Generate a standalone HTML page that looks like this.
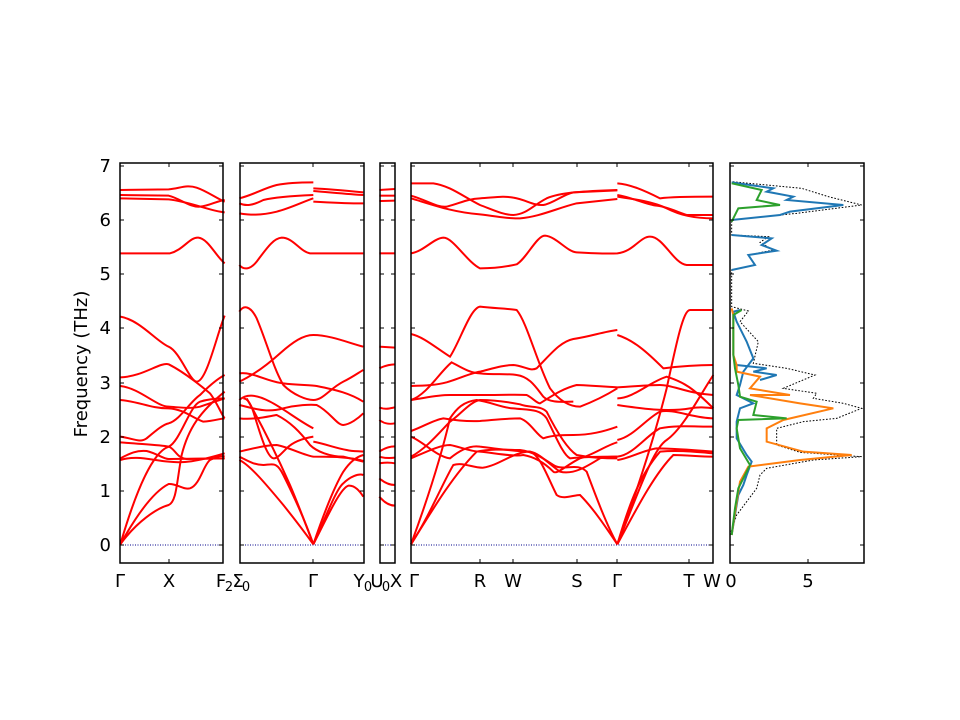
<!DOCTYPE html>
<html><head><meta charset="utf-8"><style>
html,body{margin:0;padding:0;background:#fff;}
svg{display:block;font-family:"DejaVu Sans","Liberation Sans",sans-serif;}
</style></head><body>
<svg width="960" height="720" viewBox="0 0 960 720" xmlns="http://www.w3.org/2000/svg">
<rect width="960" height="720" fill="#fff"/>
<g stroke="#00008b" stroke-width="1" stroke-dasharray="1,1.5">
<line x1="120" y1="545" x2="223" y2="545"/><line x1="240" y1="545" x2="364" y2="545"/>
<line x1="380" y1="545" x2="395" y2="545"/><line x1="411" y1="545" x2="713" y2="545"/>
</g>
<g transform="translate(110,155) scale(0.33333)" fill="none" stroke="#ff0000" stroke-width="6">
<path d="M31,105 L176,103 C210,100 230,88 260,98 C290,108 320,130 344,140"/>
<path d="M31,120 L176,122 C210,130 240,158 270,155 C300,152 320,138 344,135"/>
<path d="M31,130 L176,133 C240,140 300,168 344,172"/>
<path d="M31,295 L180,295 C220,285 240,245 265,248 C295,252 315,300 344,325"/>
<path d="M31,485 C90,495 140,560 176,575 C210,590 240,680 260,680 C290,680 320,540 344,482"/>
<path d="M31,667 C100,665 150,620 176,628 C220,650 270,690 300,715 C320,740 335,780 344,790"/>
<path d="M31,693 C90,700 140,755 176,755 C210,757 240,762 270,755 C300,745 330,735 344,730"/>
<path d="M31,735 C90,740 120,760 176,760 C220,762 250,790 280,800 C310,798 335,790 344,790"/>
<path d="M31,845 C70,850 90,865 110,850 C140,825 160,808 176,805 C210,795 240,740 270,720 C300,690 325,670 344,660"/>
<path d="M31,862 C100,868 150,870 176,875 C195,880 200,910 230,912 L344,910"/>
<path d="M31,910 C60,895 80,885 110,888 C140,895 160,912 176,912 L344,910"/>
<path d="M31,915 C80,900 120,915 176,920 C220,925 260,920 344,895"/>
<path d="M31,1168 C80,1000 130,890 176,875 C210,860 240,750 270,740 C300,730 330,730 344,730"/>
<path d="M31,1168 C80,1100 140,1060 176,1050 C200,1040 200,980 215,900 C235,820 270,770 344,710"/>
<path d="M31,1168 C80,1080 130,1010 176,987 C200,985 220,1005 240,1000 C270,990 280,930 300,915 C320,905 335,900 344,905"/>
<path d="M388,130 C430,120 460,100 500,90 C540,82 580,82 610,82"/>
<path d="M610,100 C660,102 720,108 760,112"/>
<path d="M610,108 C660,112 720,118 760,120"/>
<path d="M610,140 C660,143 720,146 760,145"/>
<path d="M388,145 C410,155 430,150 460,135 C500,125 560,122 610,120"/>
<path d="M388,175 C420,180 450,182 500,170 C540,160 580,140 610,130"/>
<path d="M388,330 C400,345 420,345 440,320 C470,280 490,250 515,248 C550,248 570,290 600,295 L760,295"/>
<path d="M388,470 C400,450 420,450 440,490 C470,560 490,640 520,690 C550,720 590,735 610,735 C640,735 660,700 700,680 C730,665 750,650 760,645"/>
<path d="M388,680 C420,665 460,640 510,595 C550,560 580,540 610,540 C660,540 720,565 760,575"/>
<path d="M388,655 C430,650 470,680 520,685 C560,690 600,690 620,693 C680,705 720,715 760,740"/>
<path d="M388,735 C410,715 440,718 480,740 C520,760 570,800 610,820"/>
<path d="M388,750 C430,760 470,775 520,760 C560,750 600,748 620,750 C660,770 680,810 700,810 C720,808 745,790 760,775"/>
<path d="M388,790 C430,795 470,785 500,780 C540,800 570,830 600,870 C620,890 660,905 700,905 L760,920"/>
<path d="M388,890 C430,880 470,870 500,870 C540,878 580,900 610,905 C660,905 720,905 760,918"/>
<path d="M610,845 C580,850 550,860 530,880 C510,900 500,912 490,910 C470,905 450,835 430,770 C420,740 410,730 400,730"/>
<path d="M610,860 C650,868 680,880 710,885 C730,890 750,888 760,890"/>
<path d="M388,905 C410,915 430,930 460,930 C490,928 500,920 520,960 C560,1040 590,1110 610,1168"/>
<path d="M388,915 C420,930 470,990 520,1050 C560,1100 590,1140 610,1168"/>
<path d="M410,730 C450,800 500,900 540,990 C570,1060 595,1130 610,1168"/>
<path d="M610,1168 C640,1080 670,1000 700,950 C720,920 740,905 760,900"/>
<path d="M610,1168 C650,1090 690,1000 715,992 C735,990 750,1010 760,1025"/>
<path d="M610,1168 C650,1080 680,1000 700,985 C720,965 745,955 760,960"/>
<path d="M808,105 L855,102"/><path d="M808,122 L855,122"/><path d="M808,138 L855,137"/>
<path d="M808,295 L855,295"/><path d="M808,575 L855,578"/><path d="M808,640 C825,632 840,628 855,628"/>
<path d="M808,757 C825,765 840,760 855,757"/><path d="M808,795 C825,808 840,808 855,805"/>
<path d="M808,890 C825,878 840,874 855,874"/><path d="M808,905 C825,910 840,910 855,908"/>
<path d="M808,925 C825,922 840,922 855,925"/><path d="M808,970 C825,985 840,990 855,990"/>
<path d="M808,1025 C825,1045 840,1052 855,1052"/>
</g>
<g transform="translate(400,155) scale(0.33333)" fill="none" stroke="#ff0000" stroke-width="6">
<path d="M33,85 L100,85 C150,92 190,125 240,150 C280,165 310,180 340,180 C380,178 400,150 440,130 C480,112 560,108 652,105"/>
<path d="M652,85 C690,88 730,105 780,130 C820,125 880,125 940,125"/>
<path d="M33,122 C80,135 110,158 140,155 C180,145 200,132 240,130 C280,128 310,122 340,128 C380,135 400,152 430,150 C460,145 490,118 520,112 L652,106"/>
<path d="M33,130 C100,150 160,172 240,178 C300,185 330,192 360,190 C420,185 470,160 530,145 L652,132"/>
<path d="M652,120 C700,128 740,150 770,152 C800,155 830,170 860,180 L940,180"/>
<path d="M652,125 C700,132 760,140 800,160 C840,180 880,190 940,190"/>
<path d="M33,295 C70,290 100,250 130,248 C160,248 200,320 240,340 C280,340 320,335 350,328 C380,310 410,242 435,242 C470,245 500,290 530,292 C580,295 620,297 652,295 C700,290 720,245 750,245 C790,245 820,325 860,330 L940,330"/>
<path d="M33,537 C70,545 110,580 150,605 C180,560 210,460 240,455 C280,460 320,460 350,465 C380,500 410,620 450,700 C480,740 510,755 540,755 C580,740 620,720 652,700"/>
<path d="M652,540 C700,555 740,590 790,640 C830,635 880,630 940,630"/>
<path d="M33,693 C80,692 110,690 140,682 C180,670 210,655 240,650 C280,640 310,630 340,630 C370,632 390,650 410,640 C450,600 480,560 520,552 C570,545 610,530 652,525"/>
<path d="M33,735 C80,720 120,650 155,622 C180,635 210,655 240,655 C280,660 320,655 350,660 C390,665 410,700 430,725 C450,745 490,740 520,740"/>
<path d="M33,735 C80,728 110,720 150,720 L240,720 C300,720 360,718 380,720 C400,730 410,745 420,745 C460,720 490,700 530,690 C580,692 620,695 652,697 C700,695 740,690 780,690 C820,690 860,715 940,720"/>
<path d="M33,828 C70,815 100,795 130,790 C160,795 200,800 240,798 C280,795 320,790 360,790 C390,800 410,840 430,850 C460,840 490,840 520,840 C570,840 610,830 652,815"/>
<path d="M652,750 C720,760 800,772 870,760 C900,755 920,758 940,760"/>
<path d="M652,730 C700,730 750,680 800,665 C850,680 880,700 940,760"/>
<path d="M652,855 C700,845 740,790 780,770 C820,760 880,790 940,790"/>
<path d="M652,905 C700,900 740,840 780,820 C830,810 880,815 940,815"/>
<path d="M652,915 C690,910 730,885 770,880 C820,880 880,885 940,890"/>
<path d="M33,845 C70,860 110,905 150,910 C180,885 210,870 240,875 C300,882 350,890 390,890 C420,895 450,930 480,950 C520,960 560,935 600,910 C620,905 640,905 652,905"/>
<path d="M33,910 C80,890 120,870 150,870 C180,875 210,890 240,890 C290,895 340,905 370,900 C400,905 430,920 460,950 C470,960 500,930 540,910 C580,900 620,870 652,862"/>
<path d="M33,905 C80,880 120,830 150,800 C180,780 210,740 240,735 C280,735 320,740 360,748 C390,760 420,750 440,770 C470,830 500,880 530,900 C580,910 620,910 652,910"/>
<path d="M33,1168 C80,1040 120,920 150,790 C170,760 190,740 230,735 C270,740 310,760 340,760 C380,765 420,760 440,790 C470,850 490,900 510,910 C560,905 600,905 652,905"/>
<path d="M33,1168 C90,1080 130,980 160,930 C190,920 220,940 250,938 C300,930 340,890 390,890 C420,900 440,960 470,1020 C490,1035 520,1020 540,1020 C580,1060 620,1120 652,1168"/>
<path d="M33,1168 C100,1060 160,960 230,890 C280,880 330,885 360,885 C400,890 430,910 460,930 C490,950 530,920 560,950 C590,1030 620,1110 652,1168"/>
<path d="M652,1168 C690,1040 720,960 780,890 C830,885 880,890 940,895"/>
<path d="M652,1168 C700,1080 760,960 820,900 C860,900 900,905 940,905"/>
<path d="M652,1168 C720,1000 760,880 800,855 C850,820 900,720 940,660"/>
<path d="M652,1168 C700,1040 760,860 800,700 C830,560 850,465 870,465 L940,465"/>
</g>
<g transform="translate(400,155) scale(0.33333)" fill="none">
<polyline stroke="#000" stroke-width="3" stroke-dasharray="5,5" points="990,1140 1010,1080 1040,1040 1070,1000 1080,960 1100,940 1240,915 1385,905 1200,892 1130,870 1130,820 1210,800 1310,790 1385,760 1330,745 1240,730 1250,715 1150,700 1245,660 1160,640 1060,625 1075,560 1020,500 1045,468 995,455 995,345 1065,330 1045,300 1120,285 1080,262 1105,245 995,240 995,195 1190,175 1385,150 1285,125 1205,100 995,80"/>
<polyline stroke="#1f77b4" stroke-width="6" points="995,1140 1015,1020 1030,990 1040,960 1055,920 1040,900 1010,850 1010,800 1020,760 1060,745 1010,720 1020,690 1030,650 1060,610 1040,560 1010,500 1000,470 1020,465"/>
<polyline stroke="#1f77b4" stroke-width="6" points="995,345 1065,330 1045,300 1130,287 1085,270 1115,250 995,240"/>
<polyline stroke="#1f77b4" stroke-width="6" points="995,195 1140,180 1170,170 1330,150 1160,135 1180,125 1100,110 1120,100 995,82"/>
<polyline stroke="#1f77b4" stroke-width="6" points="1010,630 1100,640 1060,650 1130,660 1080,675"/>
<polyline stroke="#ff7f0e" stroke-width="6" points="995,1140 1010,1040 1020,980 1045,935 1200,915 1355,900 1210,890 1100,860 1100,820 1150,795 1300,760 1200,745 1050,720 1170,720 1050,700 1080,665 1010,650 1010,630 1000,600 1000,480 995,460"/>
<polyline stroke="#2ca02c" stroke-width="6" points="995,1140 1005,1060 1015,1000 1050,930 1020,880 1010,820 1015,795 1160,790 1060,780 1070,740 1020,725 1015,690 1005,640 1000,600 1000,480 1025,465"/>
<polyline stroke="#2ca02c" stroke-width="6" points="995,200 1015,160 1140,150 1070,135 1085,105 995,85"/>
</g>
<g fill="none" stroke="#000" stroke-width="1.5">
<rect x="120" y="163" width="103" height="400"/><rect x="240" y="163" width="124" height="400"/>
<rect x="380" y="163" width="15" height="400"/><rect x="411" y="163" width="302" height="400"/>
<rect x="730" y="163" width="134" height="400"/>
</g>
<g stroke="#000" stroke-width="1">
<path d="M120,545h4M120,491h4M120,437h4M120,383h4M120,328h4M120,274h4M120,220h4M120,166h4 M223,545h-4M223,491h-4M223,437h-4M223,383h-4M223,328h-4M223,274h-4M223,220h-4M223,166h-4"/>
<path d="M240,545h4M240,491h4M240,437h4M240,383h4M240,328h4M240,274h4M240,220h4M240,166h4 M364,545h-4M364,491h-4M364,437h-4M364,383h-4M364,328h-4M364,274h-4M364,220h-4M364,166h-4"/>
<path d="M380,545h4M380,491h4M380,437h4M380,383h4M380,328h4M380,274h4M380,220h4M380,166h4 M395,545h-4M395,491h-4M395,437h-4M395,383h-4M395,328h-4M395,274h-4M395,220h-4M395,166h-4"/>
<path d="M411,545h4M411,491h4M411,437h4M411,383h4M411,328h4M411,274h4M411,220h4M411,166h4 M713,545h-4M713,491h-4M713,437h-4M713,383h-4M713,328h-4M713,274h-4M713,220h-4M713,166h-4"/>
<path d="M730,545h4M730,491h4M730,437h4M730,383h4M730,328h4M730,274h4M730,220h4M730,166h4 M864,545h-4M864,491h-4M864,437h-4M864,383h-4M864,328h-4M864,274h-4M864,220h-4M864,166h-4"/>
<path d="M169,163v4M169,563v-4M313,163v4M313,563v-4M480,163v4M480,563v-4M513,163v4M513,563v-4M577,163v4M577,563v-4M617,163v4M617,563v-4M689,163v4M689,563v-4M808,163v4M808,563v-4"/>
</g>
<g font-size="18" fill="#000" text-anchor="end">
<text x="111" y="551">0</text><text x="111" y="497">1</text><text x="111" y="443">2</text><text x="111" y="389">3</text>
<text x="111" y="334">4</text><text x="111" y="280">5</text><text x="111" y="226">6</text><text x="111" y="172">7</text>
</g>
<text transform="translate(87,364) rotate(-90)" font-size="18" text-anchor="middle">Frequency (THz)</text>
<g font-size="18" text-anchor="middle">
<text x="120" y="587">Γ</text><text x="169" y="587">X</text>
<text x="221" y="587">F</text><text x="229" y="591" font-size="13">2</text>
<text x="238" y="587">Σ</text><text x="246" y="591" font-size="13">0</text>
<text x="313" y="587">Γ</text>
<text x="359" y="587">Y</text><text x="368" y="591" font-size="13">0</text>
<text x="377" y="587">U</text><text x="386" y="591" font-size="13">0</text>
<text x="396" y="587">X</text>
<text x="414" y="587">Γ</text><text x="480" y="587">R</text><text x="513" y="587">W</text>
<text x="577" y="587">S</text><text x="617" y="587">Γ</text><text x="689" y="587">T</text>
<text x="712" y="587">W</text><text x="731" y="587">0</text><text x="808" y="587">5</text>
</g>
</svg>
</body></html>
